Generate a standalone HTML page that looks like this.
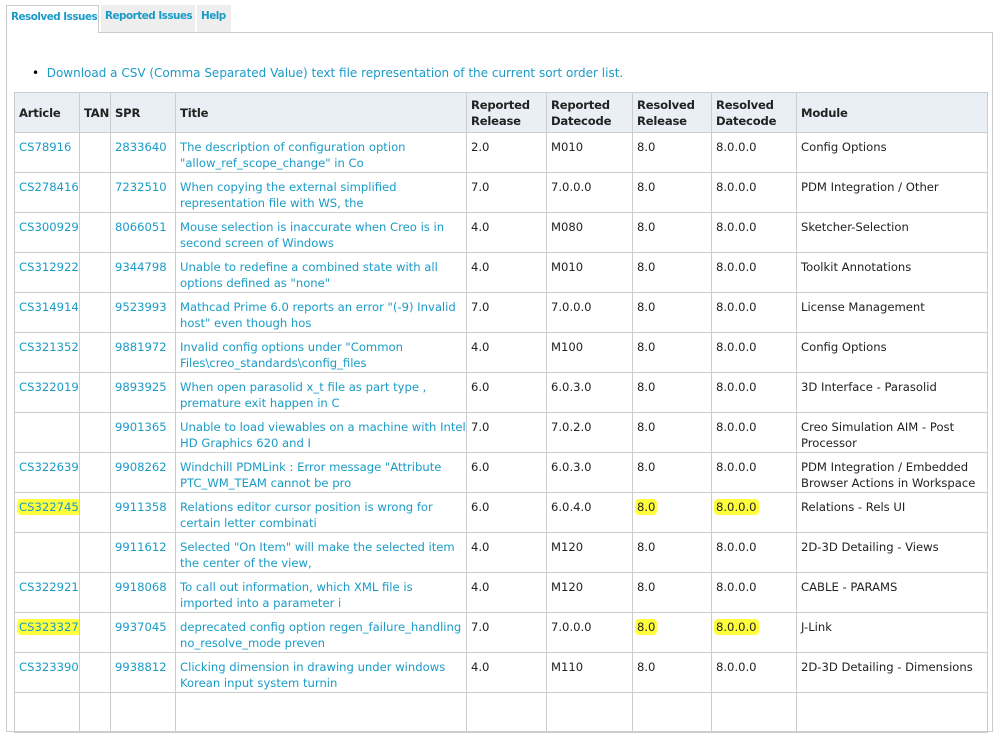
<!DOCTYPE html>
<html><head><meta charset="utf-8"><style>
body{margin:0;width:999px;height:697px;overflow:hidden;background:#fff;font-family:"DejaVu Sans","Liberation Sans",sans-serif;font-size:11.6px;color:#222;position:relative}
.tab{position:absolute;top:5px;height:27px;background:#eee;color:#1a9bc7;font-weight:bold;font-size:10.4px;line-height:22px;padding-left:4px;box-sizing:border-box;letter-spacing:-0.5px;white-space:nowrap;overflow:hidden}
.panel{position:absolute;left:6px;top:32px;width:987px;height:700px;border:1px solid #ccc;box-sizing:border-box}
a{color:#1a9bc7;text-decoration:none}
table{position:absolute;left:14px;top:92px;border-collapse:collapse;table-layout:fixed;width:973px}
td,th{border:1px solid #ccc;vertical-align:top;padding:6px 4px 0 4px;line-height:16px;white-space:nowrap;overflow:hidden;text-align:left}
th{background:#e9eff5;font-weight:bold;vertical-align:middle;padding:0 4px;height:39px;font-size:11.6px;letter-spacing:-0.2px}
td{height:33px}
.hl{background:#ffff3c;border-radius:4px;padding:1px 2px;margin-left:-2px}
</style></head><body>
<div class="panel"></div>
<div class="tab" style="left:6px;width:93px;background:#fff;border:1px solid #ccc;border-bottom:none;height:28px;color:#1a9bc7">Resolved Issues</div>
<div class="tab" style="left:101px;width:94px">Reported Issues</div>
<div class="tab" style="left:197px;width:34px">Help</div>
<div style="position:absolute;left:32px;top:66px;font-size:12px"><span style="color:#000">&#8226;</span>&nbsp; <a>Download a CSV (Comma Separated Value) text file representation of the current sort order list.</a></div>
<table>
<colgroup><col style="width:65px"><col style="width:31px"><col style="width:65px"><col style="width:291px"><col style="width:80px"><col style="width:86px"><col style="width:79px"><col style="width:85px"><col style="width:191px"></colgroup>
<tr><th>Article</th><th>TAN</th><th>SPR</th><th>Title</th><th>Reported<br>Release</th><th>Reported<br>Datecode</th><th>Resolved<br>Release</th><th>Resolved<br>Datecode</th><th>Module</th></tr>
<tr><td><a>CS78916</a></td><td></td><td><a>2833640</a></td><td><a>The description of configuration option<br>"allow_ref_scope_change" in Co</a></td><td>2.0</td><td>M010</td><td>8.0</td><td>8.0.0.0</td><td>Config Options</td></tr>
<tr><td><a>CS278416</a></td><td></td><td><a>7232510</a></td><td><a>When copying the external simplified<br>representation file with WS, the</a></td><td>7.0</td><td>7.0.0.0</td><td>8.0</td><td>8.0.0.0</td><td>PDM Integration / Other</td></tr>
<tr><td><a>CS300929</a></td><td></td><td><a>8066051</a></td><td><a>Mouse selection is inaccurate when Creo is in<br>second screen of Windows</a></td><td>4.0</td><td>M080</td><td>8.0</td><td>8.0.0.0</td><td>Sketcher-Selection</td></tr>
<tr><td><a>CS312922</a></td><td></td><td><a>9344798</a></td><td><a>Unable to redefine a combined state with all<br>options defined as "none"</a></td><td>4.0</td><td>M010</td><td>8.0</td><td>8.0.0.0</td><td>Toolkit Annotations</td></tr>
<tr><td><a>CS314914</a></td><td></td><td><a>9523993</a></td><td><a>Mathcad Prime 6.0 reports an error "(-9) Invalid<br>host" even though hos</a></td><td>7.0</td><td>7.0.0.0</td><td>8.0</td><td>8.0.0.0</td><td>License Management</td></tr>
<tr><td><a>CS321352</a></td><td></td><td><a>9881972</a></td><td><a>Invalid config options under "Common<br>Files\creo_standards\config_files</a></td><td>4.0</td><td>M100</td><td>8.0</td><td>8.0.0.0</td><td>Config Options</td></tr>
<tr><td><a>CS322019</a></td><td></td><td><a>9893925</a></td><td><a>When open parasolid x_t file as part type ,<br>premature exit happen in C</a></td><td>6.0</td><td>6.0.3.0</td><td>8.0</td><td>8.0.0.0</td><td>3D Interface - Parasolid</td></tr>
<tr><td></td><td></td><td><a>9901365</a></td><td><a>Unable to load viewables on a machine with Intel<br>HD Graphics 620 and I</a></td><td>7.0</td><td>7.0.2.0</td><td>8.0</td><td>8.0.0.0</td><td>Creo Simulation AIM - Post<br>Processor</td></tr>
<tr><td><a>CS322639</a></td><td></td><td><a>9908262</a></td><td><a>Windchill PDMLink : Error message "Attribute<br>PTC_WM_TEAM cannot be pro</a></td><td>6.0</td><td>6.0.3.0</td><td>8.0</td><td>8.0.0.0</td><td>PDM Integration / Embedded<br>Browser Actions in Workspace</td></tr>
<tr><td><a class="hl">CS322745</a></td><td></td><td><a>9911358</a></td><td><a>Relations editor cursor position is wrong for<br>certain letter combinati</a></td><td>6.0</td><td>6.0.4.0</td><td><span class="hl">8.0</span></td><td><span class="hl">8.0.0.0</span></td><td>Relations - Rels UI</td></tr>
<tr><td></td><td></td><td><a>9911612</a></td><td><a>Selected "On Item" will make the selected item<br>the center of the view,</a></td><td>4.0</td><td>M120</td><td>8.0</td><td>8.0.0.0</td><td>2D-3D Detailing - Views</td></tr>
<tr><td><a>CS322921</a></td><td></td><td><a>9918068</a></td><td><a>To call out information, which XML file is<br>imported into a parameter i</a></td><td>4.0</td><td>M120</td><td>8.0</td><td>8.0.0.0</td><td>CABLE - PARAMS</td></tr>
<tr><td><a class="hl">CS323327</a></td><td></td><td><a>9937045</a></td><td><a>deprecated config option regen_failure_handling<br>no_resolve_mode preven</a></td><td>7.0</td><td>7.0.0.0</td><td><span class="hl">8.0</span></td><td><span class="hl">8.0.0.0</span></td><td>J-Link</td></tr>
<tr><td><a>CS323390</a></td><td></td><td><a>9938812</a></td><td><a>Clicking dimension in drawing under windows<br>Korean input system turnin</a></td><td>4.0</td><td>M110</td><td>8.0</td><td>8.0.0.0</td><td>2D-3D Detailing - Dimensions</td></tr>
<tr><td></td><td></td><td></td><td></td><td></td><td></td><td></td><td></td><td></td></tr>
</table>
</body></html>
